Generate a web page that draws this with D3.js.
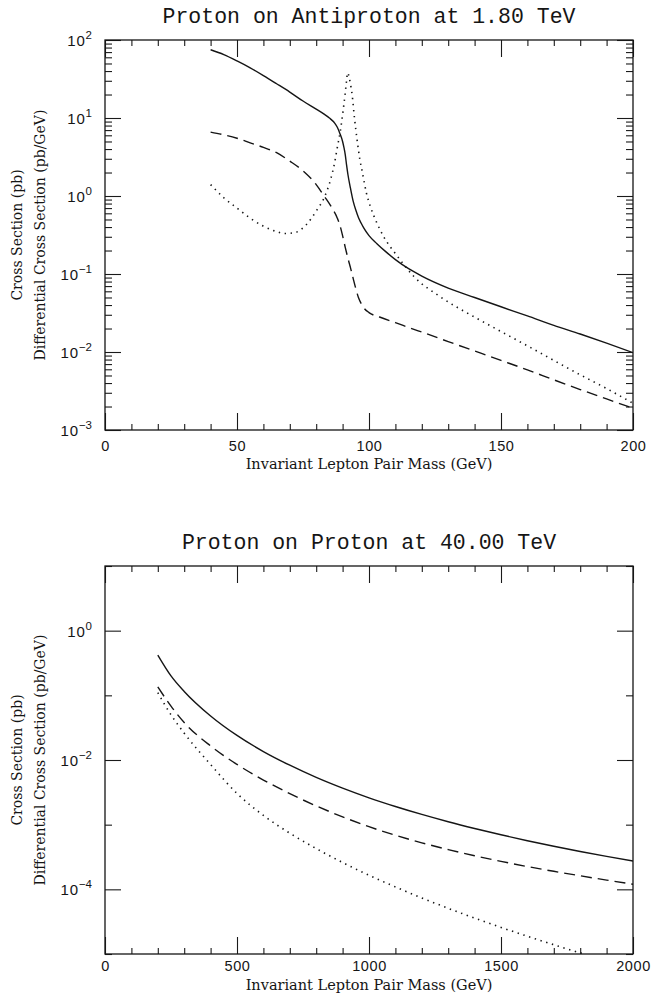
<!DOCTYPE html>
<html>
<head>
<meta charset="utf-8">
<script src="https://cdn.jsdelivr.net/npm/d3@7"></script>
<style>
  body { margin: 0; background: #fff; }
  svg { display: block; }
  .domain { display: none; }
  .tick line { stroke: #1a1a1a; stroke-width: 1.1; }
</style>
</head>
<body>
<svg id="chart" width="657" height="993"></svg>
<script>
// ---- top panel: proton on antiproton, 1.80 TeV ----
var topSolidMass = [40, 45, 50, 55, 60, 65, 70, 75, 80, 83, 85, 87, 88, 89, 90, 90.5, 91, 91.5, 92, 93, 94, 95, 96, 97, 98, 100, 103, 106, 110, 115, 120, 130, 140, 150, 160, 170, 180, 190, 200];
var topSolidXsec = [75, 65, 54, 44, 35, 27.5, 21.5, 16.5, 13, 11.2, 10, 8.6, 7.6, 6.3, 5.0, 4.2, 3.4, 2.5, 1.9, 1.25, 0.86, 0.66, 0.53, 0.45, 0.39, 0.31, 0.245, 0.198, 0.153, 0.117, 0.094, 0.066, 0.05, 0.038, 0.029, 0.022, 0.017, 0.013, 0.0098];

var topDashMass = [40, 45, 50, 55, 60, 65, 70, 75, 80, 83, 86, 88, 89, 90, 91, 92, 93, 94, 95, 96, 97, 98, 100, 104, 110, 117, 120, 130, 140, 150, 160, 170, 180, 190, 200];
var topDashXsec = [6.6, 6.1, 5.5, 4.8, 4.2, 3.6, 2.8, 2.1, 1.4, 1.0, 0.7, 0.52, 0.42, 0.31, 0.22, 0.16, 0.12, 0.088, 0.065, 0.05, 0.042, 0.037, 0.032, 0.0281, 0.0238, 0.0195, 0.018, 0.0136, 0.0103, 0.0078, 0.0059, 0.0044, 0.0033, 0.0025, 0.0019];

var topDotMass = [40, 45, 50, 55, 60, 65, 68, 72, 76, 80, 83, 85.4, 87, 88, 89.2, 90, 91, 91.5, 91.9, 92.5, 93, 93.6, 94.5, 95.5, 96.5, 97.5, 99, 100.6, 103, 105.6, 110.7, 117, 127, 140, 150, 160, 170, 180, 190, 200];
var topDotXsec = [1.4, 0.95, 0.7, 0.52, 0.41, 0.35, 0.33, 0.34, 0.42, 0.64, 0.95, 1.6, 2.7, 4.2, 7, 11, 21, 30, 38, 33, 27, 20, 10, 5.2, 3.0, 2.0, 1.1, 0.72, 0.45, 0.3, 0.17, 0.093, 0.051, 0.028, 0.0183, 0.012, 0.0078, 0.0051, 0.0034, 0.0022];

var topXLabels = [0, 50, 100, 150, 200];
var topXMinor = [10, 20, 30, 40, 60, 70, 80, 90, 110, 120, 130, 140, 160, 170, 180, 190];
var topYLabels = [-3, -2, -1, 0, 1, 2];

// ---- bottom panel: proton on proton, 40.00 TeV ----
var botMass = [200, 250, 300, 400, 500, 600, 700, 800, 900, 1000, 1100, 1200, 1300, 1400, 1500, 1600, 1700, 1800, 1900, 2000];
var botSolidXsec = [0.42, 0.2, 0.115, 0.048, 0.024, 0.0135, 0.0083, 0.00538, 0.00367, 0.0026, 0.00191, 0.00144, 0.00111, 0.000873, 0.000697, 0.000565, 0.000464, 0.000385, 0.000323, 0.000274];
var botDashXsec = [0.135, 0.068, 0.038, 0.0165, 0.00854, 0.0049, 0.00302, 0.00195, 0.00132, 0.00093, 0.000686, 0.000524, 0.000412, 0.000331, 0.000271, 0.000225, 0.00019, 0.000162, 0.000139, 0.00012];
var botDotXsec = [0.11, 0.05, 0.026, 0.0085, 0.00304, 0.00139, 0.000738, 0.000427, 0.00026, 0.000165, 0.000109, 0.0000735, 0.0000509, 0.0000359, 0.0000258, 0.0000188, 0.0000139, 0.0000104, 0.00000796, 0.00000616];

var botXLabels = [0, 500, 1000, 1500, 2000];
var botXMinor = [100, 200, 300, 400, 600, 700, 800, 900, 1100, 1200, 1300, 1400, 1600, 1700, 1800, 1900];
var botYLabels = [-4, -2, 0];
var botYMinor = [-5, -3, -1, 1];

var svg = d3.select("#chart");
var ink = "#151515";
var serif = "'DejaVu Serif', 'Liberation Serif', serif";
var sans = "'Liberation Sans', Arial, sans-serif";
var mono = "'Liberation Mono', 'DejaVu Sans Mono', monospace";

var axisTitle = "Invariant Lepton Pair Mass (GeV)";
var yTitle1 = "Cross Section (pb)";
var yTitle2 = "Differential Cross Section (pb/GeV)";

function drawPanel(p) {
  var w = p.right - p.left, h = p.bottom - p.top;
  var g = svg.append("g").attr("transform", "translate(" + p.left + "," + p.top + ")");

  var x = d3.scaleLinear().domain(p.xDomain).range([0, w]);
  var y = d3.scaleLog().domain(p.yDomain).range([h, 0]);

  // x ticks, inside, bottom and top
  g.append("g").attr("transform", "translate(0," + h + ")")
    .call(d3.axisBottom(x).tickValues(p.xLabels).tickSize(-17).tickPadding(p.labelPad).tickFormat(d3.format("d")))
    .call(function (a) {
      a.selectAll("text").attr("font-family", sans).attr("font-size", 14.5)
        .attr("letter-spacing", 0.6).attr("fill", ink);
    });
  g.append("g").attr("transform", "translate(0," + h + ")")
    .call(d3.axisBottom(x).tickValues(p.xMinor).tickSize(-6).tickFormat(""));
  g.append("g")
    .call(d3.axisTop(x).tickValues(p.xLabels).tickSize(-17).tickFormat(""));
  g.append("g")
    .call(d3.axisTop(x).tickValues(p.xMinor).tickSize(-6).tickFormat(""));

  // y ticks, inside, left and right
  var major = p.yLabels.map(function (e) { return Math.pow(10, e); });
  [["left", 0], ["right", w]].forEach(function (side) {
    var mk = side[0] === "left" ? d3.axisLeft : d3.axisRight;
    g.append("g").attr("transform", "translate(" + side[1] + ",0)")
      .call(mk(y).tickValues(major).tickSize(-16).tickFormat(""));
    g.append("g").attr("transform", "translate(" + side[1] + ",0)")
      .call(mk(y).tickValues(p.yMinor).tickSize(-7).tickFormat(""));
  });

  // y labels as 10 with superscript exponent
  var lab = g.append("g").selectAll("text").data(p.yLabels).enter().append("text")
    .attr("x", -13).attr("y", function (e) { return y(Math.pow(10, e)) + 6; })
    .attr("font-family", sans).attr("font-size", 15).attr("fill", ink)
    .attr("text-anchor", "end");
  lab.append("tspan").attr("letter-spacing", 0.8).text("10");
  lab.append("tspan").attr("dy", -7).attr("font-size", 11.5)
    .text(function (e) { return e < 0 ? "\u2212" + (-e) : e; });

  // frame
  g.append("rect").attr("width", w).attr("height", h)
    .attr("fill", "none").attr("stroke", ink).attr("stroke-width", 1.3);

  // curves
  var clipId = "clip" + p.id;
  g.append("clipPath").attr("id", clipId).append("rect").attr("width", w).attr("height", h);
  var line = d3.line().curve(d3.curveMonotoneX)
    .x(function (d) { return x(d[0]); }).y(function (d) { return y(d[1]); });
  var curves = g.append("g").attr("clip-path", "url(#" + clipId + ")");
  p.series.forEach(function (s) {
    curves.append("path")
      .datum(d3.zip(s.mass, s.xsec))
      .attr("d", line)
      .attr("fill", "none").attr("stroke", ink)
      .attr("stroke-width", s.dash === "dot" ? 1.6 : 1.4)
      .attr("stroke-dasharray", s.dash === "dash" ? "11,6" : s.dash === "dot" ? "1.4,4.6" : null);
  });

  // titles
  svg.append("text").attr("x", p.left + w / 2).attr("y", p.top - 17)
    .attr("text-anchor", "middle").attr("font-family", mono).attr("font-size", 21.5)
    .attr("fill", ink).text(p.title);
  svg.append("text").attr("x", p.left + w / 2).attr("y", p.bottom + p.titleGap)
    .attr("text-anchor", "middle").attr("font-family", serif).attr("font-size", 14.5)
    .attr("fill", ink).text(axisTitle);
  var cy = p.top + h / 2;
  svg.append("text").attr("transform", "translate(22," + cy + ") rotate(-90)")
    .attr("text-anchor", "middle").attr("font-family", serif).attr("font-size", 14)
    .attr("fill", ink).text(yTitle1);
  svg.append("text").attr("transform", "translate(45," + cy + ") rotate(-90)")
    .attr("text-anchor", "middle").attr("font-family", serif).attr("font-size", 14)
    .attr("fill", ink).text(yTitle2);
}

// minor log ticks for the top panel (2..9 in each decade)
var topYMinor = [];
topYLabels.slice(0, -1).forEach(function (e) {
  [2, 3, 4, 5, 6, 7, 8, 9].forEach(function (m) { topYMinor.push(m * Math.pow(10, e)); });
});

drawPanel({
  id: "top", left: 105, right: 633, top: 40, bottom: 430, labelPad: 11, titleGap: 39,
  xDomain: [0, 200], yDomain: [1e-3, 1e2],
  xLabels: topXLabels, xMinor: topXMinor,
  yLabels: topYLabels, yMinor: topYMinor,
  title: "Proton on Antiproton at 1.80 TeV",
  series: [
    { mass: topSolidMass, xsec: topSolidXsec, dash: "solid" },
    { mass: topDashMass, xsec: topDashXsec, dash: "dash" },
    { mass: topDotMass, xsec: topDotXsec, dash: "dot" }
  ]
});

drawPanel({
  id: "bot", left: 105, right: 633, top: 566, bottom: 954, labelPad: 7, titleGap: 36,
  xDomain: [0, 2000], yDomain: [1e-5, 1e1],
  xLabels: botXLabels, xMinor: botXMinor,
  yLabels: botYLabels, yMinor: botYMinor.map(function (e) { return Math.pow(10, e); }),
  title: "Proton on Proton at 40.00 TeV",
  series: [
    { mass: botMass, xsec: botSolidXsec, dash: "solid" },
    { mass: botMass, xsec: botDashXsec, dash: "dash" },
    { mass: botMass, xsec: botDotXsec, dash: "dot" }
  ]
});
</script>
</body>
</html>
